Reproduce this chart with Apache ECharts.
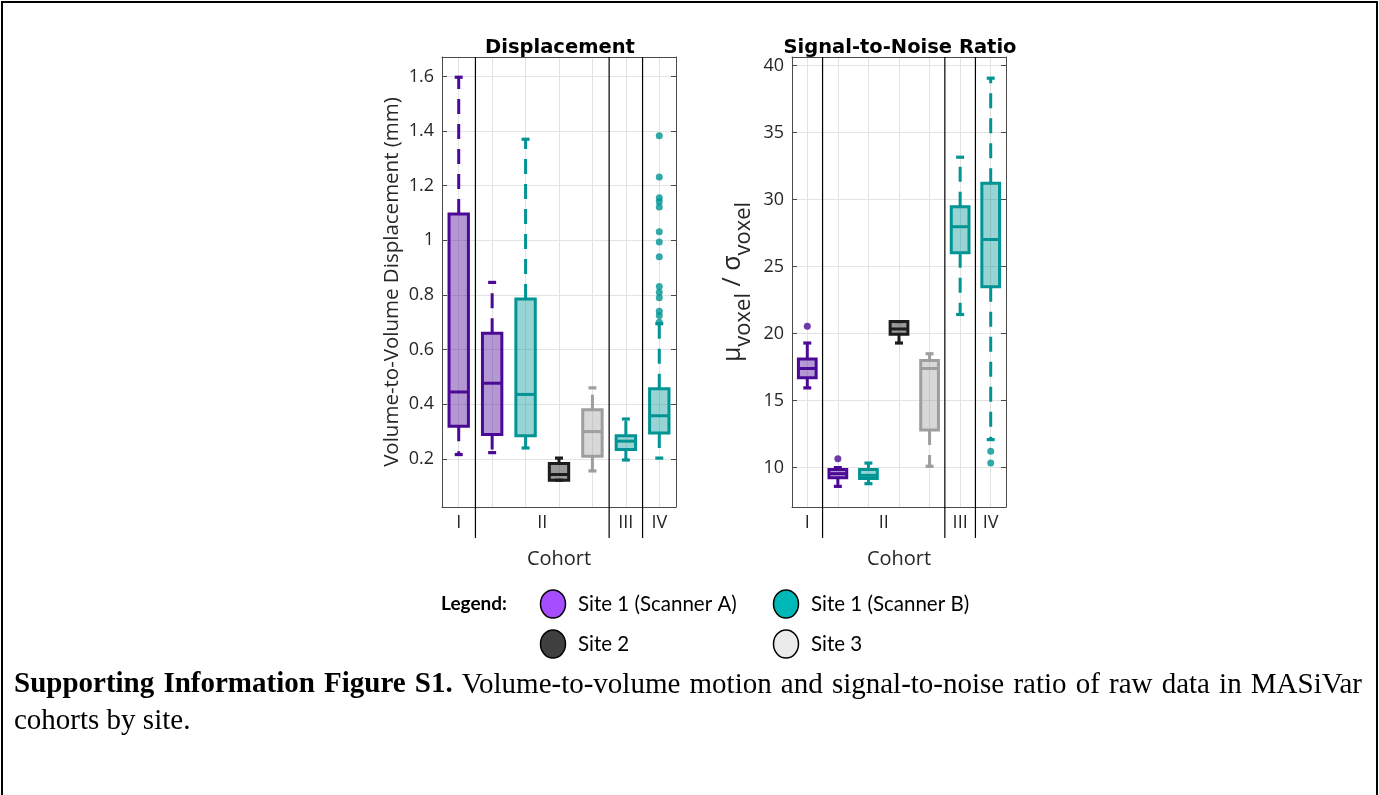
<!DOCTYPE html>
<html>
<head>
<meta charset="utf-8">
<script src="https://cdn.jsdelivr.net/npm/echarts@6/dist/echarts.min.js"></script>
<style>
  html, body { margin: 0; background: #fff; }
  #chart { width: 1379px; height: 795px; }
</style>
</head>
<body>
<div id="chart"></div>
<script>
// boxes, left to right, in both panels
const boxNames = ['I / Site 1 (A)', 'II / Site 1 (A)', 'II / Site 1 (B)', 'II / Site 2', 'II / Site 3', 'III / Site 1 (B)', 'IV / Site 1 (B)'];
const boxSites = ['A', 'A', 'B', 'S2', 'S3', 'B', 'B'];
const cohortLabels = { 1: 'I', 3.5: 'II', 6: 'III', 7: 'IV' };
const cohortBreaks = [1.5, 5.5, 6.5];

// [low whisker, q1, median, q3, high whisker]
const displacementBoxes = [
  [0.216, 0.32, 0.445, 1.096, 1.597],
  [0.223, 0.289, 0.477, 0.66, 0.846],
  [0.24, 0.285, 0.436, 0.785, 1.37],
  [0.122, 0.122, 0.143, 0.183, 0.203],
  [0.156, 0.21, 0.30, 0.38, 0.46],
  [0.196, 0.234, 0.265, 0.285, 0.346],
  [0.203, 0.295, 0.358, 0.457, 0.695]
];
// [box index, value]
const displacementOutliers = [
  [6, 1.383], [6, 1.232], [6, 1.156], [6, 1.141], [6, 1.122], [6, 1.031], [6, 0.994],
  [6, 0.94], [6, 0.831], [6, 0.81], [6, 0.79], [6, 0.74], [6, 0.725], [6, 0.70]
];
const snrBoxes = [
  [15.95, 16.7, 17.4, 18.1, 19.3],
  [8.6, 9.25, 9.55, 9.85, 10.0],
  [8.8, 9.18, 9.42, 9.85, 10.34],
  [19.3, 19.95, 20.35, 20.9, 20.9],
  [10.1, 12.8, 17.4, 18.0, 18.5],
  [21.43, 26.04, 27.98, 29.48, 33.17],
  [12.09, 23.5, 27.03, 31.22, 39.07]
];
const snrOutliers = [[0, 20.56], [1, 10.67], [6, 11.22], [6, 10.34]];

const displacementRange = [0.024, 1.671];
const snrRange = [7.06, 40.65];

const captionBold = 'Supporting Information Figure S1.';
const captionLine1 = 'Volume-to-volume motion and signal-to-noise ratio of raw data in MASiVar';
const captionLine2 = 'cohorts by site.';

const sitePalette = {
  A: { stroke: '#4b0a96', fill: 'rgba(75,10,150,0.42)', legend: '#a64dff', name: 'Site 1 (Scanner A)' },
  B: { stroke: '#009494', fill: 'rgba(0,148,148,0.40)', legend: '#00b8b8', name: 'Site 1 (Scanner B)' },
  S2: { stroke: '#1c1c1c', fill: 'rgba(28,28,28,0.45)', legend: '#404040', name: 'Site 2' },
  S3: { stroke: '#9e9e9e', fill: 'rgba(158,158,158,0.40)', legend: '#ebebeb', name: 'Site 3' }
};

const FONT = 'Open Sans';
const TXT = '#262626';
const AXIS = '#4a4a4a';
const SERIF = 'Liberation Serif';
const CAP_SIZE = 29;

const grids = [
  { left: 442, top: 57, width: 234, height: 450 },
  { left: 792, top: 57, width: 214, height: 450 }
];

function renderBox(params, api) {
  const idx = api.value(0);
  const low = api.coord([idx, api.value(1)]);
  const q1 = api.coord([idx, api.value(2)]);
  const med = api.coord([idx, api.value(3)]);
  const q3 = api.coord([idx, api.value(4)]);
  const high = api.coord([idx, api.value(5)]);
  const x = med[0];
  const w = api.size([1, 0])[0] * 0.58;
  const c = sitePalette[boxSites[idx]];
  const whisker = { stroke: c.stroke, lineWidth: 3, lineDash: [15, 10] };
  const cap = { stroke: c.stroke, lineWidth: 3.2 };
  return {
    type: 'group',
    children: [
      { type: 'line', shape: { x1: x, y1: q1[1], x2: x, y2: low[1] }, style: whisker },
      { type: 'line', shape: { x1: x, y1: q3[1], x2: x, y2: high[1] }, style: whisker },
      { type: 'line', shape: { x1: x - 4, y1: low[1], x2: x + 4, y2: low[1] }, style: cap },
      { type: 'line', shape: { x1: x - 4, y1: high[1], x2: x + 4, y2: high[1] }, style: cap },
      { type: 'rect', shape: { x: x - w / 2, y: q3[1], width: w, height: q1[1] - q3[1] },
        style: { fill: c.fill, stroke: c.stroke, lineWidth: 3 } },
      { type: 'line', shape: { x1: x - w / 2, y1: med[1], x2: x + w / 2, y2: med[1] },
        style: { stroke: c.stroke, lineWidth: 3 } }
    ]
  };
}

function renderBreak(params, api) {
  const top = api.coord([api.value(0), api.value(2)]);
  const bottom = api.coord([api.value(0), api.value(1)]);
  return {
    type: 'line',
    shape: { x1: top[0], y1: top[1], x2: bottom[0], y2: bottom[1] + 31 },
    style: { stroke: '#000', lineWidth: 1.2 }
  };
}

const xAxes = [];
const yAxes = [];
grids.forEach((g, gi) => {
  xAxes.push({
    type: 'category', gridIndex: gi, data: boxNames, position: 'bottom', boundaryGap: true,
    axisLine: { lineStyle: { color: AXIS } },
    axisTick: { inside: true, alignWithLabel: true, length: 5, lineStyle: { color: AXIS } },
    axisLabel: { show: false }, splitLine: { show: false }
  });
  xAxes.push({
    type: 'category', gridIndex: gi, data: boxNames, position: 'top', boundaryGap: true,
    axisLine: { lineStyle: { color: AXIS } },
    axisTick: { inside: true, alignWithLabel: true, length: 5, lineStyle: { color: AXIS } },
    axisLabel: { show: false }, splitLine: { show: false }
  });
  xAxes.push({
    type: 'value', gridIndex: gi, position: 'bottom', min: 0.5, max: 7.5, interval: 0.5,
    axisLine: { show: false }, axisTick: { show: false },
    splitLine: { show: true, lineStyle: { color: ['rgba(0,0,0,0)', '#e3e3e3'], width: 1 } },
    axisLabel: {
      margin: 7, fontFamily: FONT, fontSize: 18, color: TXT,
      formatter: v => cohortLabels[v] || ''
    },
    name: 'Cohort', nameLocation: 'middle', nameGap: 42,
    nameTextStyle: { fontFamily: FONT, fontSize: 20, color: TXT }
  });
});

const yCommon = (gi, range, step) => ({
  type: 'value', gridIndex: gi, min: range[0], max: range[1],
  minInterval: step, maxInterval: step
});

yAxes.push(Object.assign(yCommon(0, displacementRange, 0.2), {
  position: 'left',
  axisLine: { show: true, lineStyle: { color: AXIS } },
  axisTick: { show: true, inside: true, length: 5, lineStyle: { color: AXIS } },
  axisLabel: { showMinLabel: false, showMaxLabel: false, margin: 8, fontFamily: FONT, fontSize: 18, color: TXT },
  splitLine: { show: true, lineStyle: { color: '#e3e3e3' } },
  name: 'Volume-to-Volume Displacement (mm)', nameLocation: 'middle', nameGap: 39,
  nameTextStyle: { fontFamily: FONT, fontSize: 20.5, color: TXT }
}));
yAxes.push(Object.assign(yCommon(0, displacementRange, 0.2), {
  position: 'right',
  axisLine: { show: true, lineStyle: { color: AXIS } },
  axisTick: { show: true, inside: true, length: 5, lineStyle: { color: AXIS } },
  axisLabel: { show: false }, splitLine: { show: false }
}));
yAxes.push(Object.assign(yCommon(1, snrRange, 5), {
  position: 'left',
  axisLine: { show: true, lineStyle: { color: AXIS } },
  axisTick: { show: true, inside: true, length: 5, lineStyle: { color: AXIS } },
  axisLabel: { showMinLabel: false, showMaxLabel: false, margin: 8, fontFamily: FONT, fontSize: 18, color: TXT },
  splitLine: { show: true, lineStyle: { color: '#e3e3e3' } },
  name: '{g|μ}{s|voxel}{g| / σ}{s|voxel}', nameLocation: 'middle', nameGap: 24,
  nameTextStyle: {
    fontFamily: FONT, fontSize: 25, color: TXT,
    rich: {
      g: { fontFamily: FONT, fontSize: 25, color: TXT, lineHeight: 26, verticalAlign: 'top' },
      s: { fontFamily: FONT, fontSize: 22, color: TXT, lineHeight: 48, verticalAlign: 'middle' }
    }
  }
}));
yAxes.push(Object.assign(yCommon(1, snrRange, 5), {
  position: 'right',
  axisLine: { show: true, lineStyle: { color: AXIS } },
  axisTick: { show: true, inside: true, length: 5, lineStyle: { color: AXIS } },
  axisLabel: { show: false }, splitLine: { show: false }
}));

function panelSeries(gi, boxes, outliers, range) {
  return [
    {
      type: 'custom', xAxisIndex: gi * 3 + 2, yAxisIndex: gi * 2, z: 3, silent: true,
      data: cohortBreaks.map(b => [b, range[0], range[1]]),
      encode: { x: 0, y: [1, 2] },
      renderItem: renderBreak
    },
    {
      type: 'custom', xAxisIndex: gi * 3, yAxisIndex: gi * 2, z: 4,
      data: boxes.map((b, i) => [i].concat(b)),
      encode: { x: 0, y: [1, 2, 3, 4, 5] },
      renderItem: renderBox
    },
    {
      type: 'scatter', xAxisIndex: gi * 3, yAxisIndex: gi * 2, z: 5,
      symbolSize: 7,
      data: outliers.map(o => ({ value: o, itemStyle: { color: sitePalette[boxSites[o[0]]].stroke } }))
    }
  ];
}

// legend drawn as graphic: 2 x 2 layout
const legendRows = [['A', 'B'], ['S2', 'S3']];
const legendGraphics = [{
  type: 'text', x: 441, y: 604,
  style: { text: 'Legend:', fontFamily: 'Lato', fontWeight: 'bold', fontSize: 19, fill: '#000', verticalAlign: 'middle' }
}];
legendRows.forEach((row, ri) => {
  row.forEach((site, ci) => {
    const cx = 553 + ci * 233;
    const cy = 604 + ri * 40;
    legendGraphics.push({
      type: 'ellipse', shape: { cx: cx, cy: cy, rx: 12.5, ry: 14 },
      style: { fill: sitePalette[site].legend, stroke: '#000', lineWidth: 1.5 }
    });
    legendGraphics.push({
      type: 'text', x: cx + 25, y: cy,
      style: { text: sitePalette[site].name, fontFamily: 'Lato', fontSize: 20.5, fill: '#000', verticalAlign: 'middle' }
    });
  });
});

// caption line 1 is justified across the page width
const measureCtx = document.createElement('canvas').getContext('2d');
function wordWidth(word, bold) {
  measureCtx.font = (bold ? 'bold ' : '') + CAP_SIZE + 'px "' + SERIF + '"';
  return measureCtx.measureText(word).width;
}
const capWords = captionBold.split(' ').map(w => ({ w: w, bold: true }))
  .concat(captionLine1.split(' ').map(w => ({ w: w, bold: false })));
const capLeft = 14, capRight = 1362;
const usedWidth = capWords.reduce((s, t) => s + wordWidth(t.w, t.bold), 0);
const capGap = Math.max(5, (capRight - capLeft - usedWidth) / (capWords.length - 1));
const capRich = {
  b: { fontFamily: SERIF, fontWeight: 'bold', fontSize: CAP_SIZE, fill: '#000', padding: [0, capGap, 0, 0] },
  n: { fontFamily: SERIF, fontSize: CAP_SIZE, fill: '#000', padding: [0, capGap, 0, 0] },
  e: { fontFamily: SERIF, fontSize: CAP_SIZE, fill: '#000' }
};
const capText = capWords.map((t, i) =>
  '{' + (i === capWords.length - 1 ? 'e' : (t.bold ? 'b' : 'n')) + '|' + t.w + '}').join('');

const chart = echarts.init(document.getElementById('chart'));
chart.setOption({
  backgroundColor: '#fff',
  animation: false,
  title: [
    { text: 'Displacement', left: 555, top: 33, textAlign: 'center',
      textStyle: { fontFamily: 'DejaVu Sans', fontWeight: 'bold', fontSize: 19.5, color: '#000' } },
    { text: 'Signal-to-Noise Ratio', left: 895, top: 33, textAlign: 'center',
      textStyle: { fontFamily: 'DejaVu Sans', fontWeight: 'bold', fontSize: 19.5, color: '#000' } }
  ],
  grid: grids,
  xAxis: xAxes,
  yAxis: yAxes,
  series: panelSeries(0, displacementBoxes, displacementOutliers, displacementRange)
    .concat(panelSeries(1, snrBoxes, snrOutliers, snrRange)),
  graphic: legendGraphics.concat([
    {
      type: 'rect', shape: { x: 2, y: 2, width: 1375, height: 900 },
      style: { fill: 'none', stroke: '#000', lineWidth: 2 }, silent: true
    },
    {
      type: 'text', x: capLeft, y: 685,
      style: { text: capText, rich: capRich, verticalAlign: 'middle' }
    },
    {
      type: 'text', x: capLeft, y: 721,
      style: { text: captionLine2, fontFamily: SERIF, fontSize: CAP_SIZE, fill: '#000', verticalAlign: 'middle' }
    }
  ])
});
</script>
</body>
</html>
